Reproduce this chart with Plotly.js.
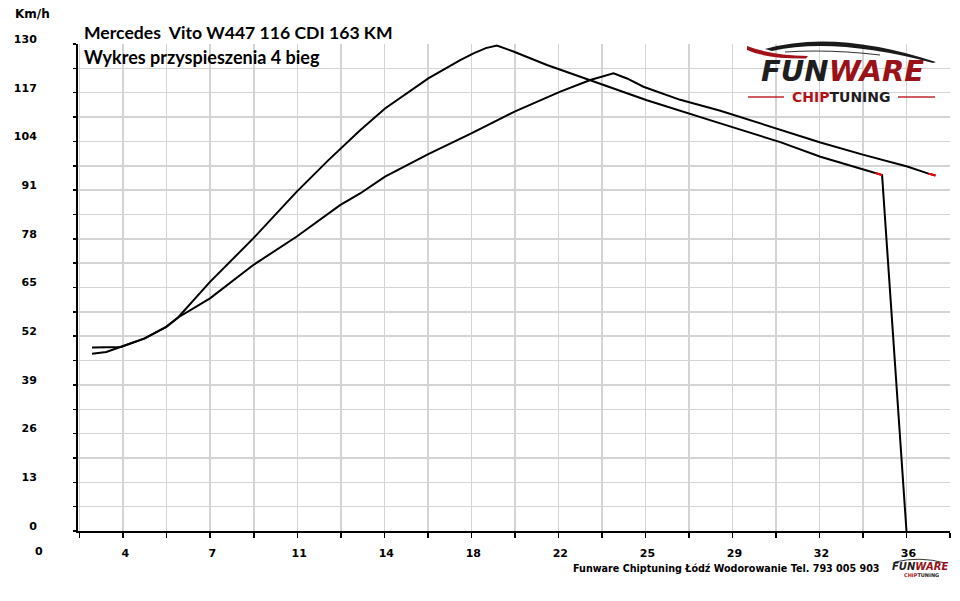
<!DOCTYPE html>
<html>
<head>
<meta charset="utf-8">
<script src="https://cdn.plot.ly/plotly-3.0.1.min.js"></script>
<style>html,body{margin:0;padding:0;background:#fff;}#chart{width:960px;height:601px;}</style>
</head>
<body>
<div id="chart"></div>
<script>
// ---- data (time in s, speed in km/h) ----
var tunedTime  = [2.31, 2.9, 3.51, 4.49, 5.38, 5.87, 7.19, 8.98, 10.78, 12.09, 13.40, 14.43, 16.22, 17.54, 18.09, 18.60, 19.06, 19.74, 21.13, 22.92, 25.26, 28.30, 30.78, 32.44, 34.71, 34.99, 36.00];
var tunedSpeed = [47.3, 47.8, 49.2, 51.4, 54.5, 57.0, 66.5, 78.1, 90.6, 99.0, 107.0, 112.8, 120.8, 125.7, 127.5, 128.9, 129.6, 128.0, 124.4, 120.4, 115.0, 108.8, 103.8, 99.9, 95.6, 95.0, 0];
var stockTime  = [2.31, 3.51, 4.49, 5.38, 5.87, 7.19, 8.98, 10.78, 12.57, 13.40, 14.43, 16.22, 18.02, 19.81, 21.68, 22.92, 23.88, 24.44, 25.12, 26.64, 28.30, 30.78, 32.44, 34.23, 36.03, 36.91, 37.20];
var stockSpeed = [49.0, 49.1, 51.4, 54.5, 57.0, 62.1, 71.0, 78.6, 87.0, 90.1, 94.6, 100.6, 106.2, 112.0, 117.3, 120.4, 122.2, 120.8, 118.6, 115.1, 112.2, 107.1, 103.7, 100.4, 97.3, 95.4, 94.9];
var xTickVals   = [3.6, 7.2, 10.8, 14.4, 18.0, 21.6, 25.2, 28.8, 32.4, 36.0];
var xTickLabels = ["4", "7", "11", "14", "18", "22", "25", "29", "32", "36"];
var yTickVals   = [0, 13, 26, 39, 52, 65, 78, 91, 104, 117, 130];
var yTickLabels = ["0", "13", "26", "39", "52", "65", "78", "91", "104", "117", "130"];
var xZeroLabel  = "0";
var unitLabel   = "Km/h";
var titleLine1  = "Mercedes  Vito W447 116 CDI 163 KM";
var titleLine2  = "Wykres przyspieszenia 4 bieg";
var footerText  = "Funware Chiptuning Łódź Wodorowanie Tel. 793 005 903";

// ---- layout helpers (pixel -> paper for decorations) ----
var L = 78, R = 950, T = 44, B = 531;
var X_MIN = 1.73, X_MAX = 37.8;
function px(x){ return (x - L) / (R - L); }
function py(y){ return (B - y) / (B - T); }
function path(pts){
  return pts.map(function(c){
    var s = c[0];
    for (var i = 1; i < c.length; i += 2) s += " " + px(c[i]).toFixed(5) + "," + py(c[i+1]).toFixed(5);
    return s;
  }).join(" ");
}
var FUN_TXT  = "<i><span style='color:#1e1e1e'>FUN</span><span style='color:#9b1118'>WARE</span></i>";
var CHIP_TXT = "<span style='color:#b5121b'>CHIP</span><span style='color:#1e1e1e'>TUNING</span>";

var n = tunedTime.length;
var traces = [
  {x: stockTime, y: stockSpeed, mode: "lines", line: {color: "#000", width: 2}, hoverinfo: "skip"},
  {x: tunedTime, y: tunedSpeed, mode: "lines", line: {color: "#000", width: 2}, hoverinfo: "skip"},
  {x: stockTime.slice(-2), y: stockSpeed.slice(-2), mode: "lines", line: {color: "#ff0000", width: 2}, hoverinfo: "skip"},
  {x: tunedTime.slice(n-3, n-1), y: tunedSpeed.slice(n-3, n-1), mode: "lines", line: {color: "#ff0000", width: 2}, hoverinfo: "skip"}
];

var tickFont = {family: "DejaVu Sans", size: 11, color: "#000", weight: 700};
var grid = "#d4d4d4";

var layout = {
  width: 960, height: 601,
  margin: {l: L, r: 960 - R, t: T, b: 601 - B, pad: 0},
  paper_bgcolor: "#fff", plot_bgcolor: "#fff",
  showlegend: false,
  xaxis: {
    range: [X_MIN, X_MAX], tickmode: "array", tickvals: xTickVals, ticktext: xTickLabels,
    ticks: "outside", ticklen: 5, tickwidth: 1.5, tickcolor: "#000",
    showline: true, linecolor: "#000", linewidth: 2, zeroline: false,
    showgrid: true, gridcolor: grid, gridwidth: 1.5,
    tickfont: tickFont, ticklabelstandoff: 6, ticklabelshift: 2,
    minor: {tick0: 0, dtick: 1.8, ticks: "outside", ticklen: 5, tickwidth: 1.5, tickcolor: "#000", showgrid: true, gridcolor: grid, gridwidth: 1.5},
    fixedrange: true
  },
  yaxis: {
    range: [0, 130], tickmode: "array", tickvals: yTickVals, ticktext: yTickLabels,
    ticks: "outside", ticklen: 3, tickwidth: 1.5, tickcolor: "#000",
    showline: true, linecolor: "#000", linewidth: 2, zeroline: false,
    showgrid: true, gridcolor: grid, gridwidth: 1.5,
    tickfont: tickFont, ticklabelstandoff: 34, ticklabelshift: -5,
    minor: {tick0: 0, dtick: 6.5, ticks: "outside", ticklen: 3, tickwidth: 1.5, tickcolor: "#000", showgrid: true, gridcolor: grid, gridwidth: 1.5},
    fixedrange: true
  },
  shapes: [
    {type: "rect", xref: "paper", yref: "paper", x0: px(745), x1: px(947), y0: py(42), y1: py(105), fillcolor: "#fff", line: {width: 0}, layer: "between"},
    {type: "path", xref: "paper", yref: "paper", layer: "above", fillcolor: "#1a1a1a", line: {width: 0},
     path: path([["M",765,49],["Q",835,29,936,62],["L",933,63],["Q",835,37,772,51],["Z"]])},
    {type: "path", xref: "paper", yref: "paper", layer: "above", fillcolor: "#a3121a", line: {width: 0},
     path: path([["M",747,46],["Q",770,55,808,56],["L",806,58.5],["Q",766,59,747,50],["Z"]])},
    {type: "path", xref: "paper", yref: "paper", layer: "above", fillcolor: "rgba(0,0,0,0)", line: {width: 1.2, color: "#333"},
     path: path([["M",785,52],["Q",830,49,880,55]])},
    {type: "line", xref: "paper", yref: "paper", layer: "above", x0: px(748), x1: px(784), y0: py(97), y1: py(97), line: {color: "#c0282d", width: 1.5}},
    {type: "line", xref: "paper", yref: "paper", layer: "above", x0: px(898), x1: px(935), y0: py(97), y1: py(97), line: {color: "#c0282d", width: 1.5}},
    {type: "path", xref: "paper", yref: "paper", layer: "above", fillcolor: "rgba(0,0,0,0)", line: {width: 1, color: "#333"},
     path: path([["M",895,562],["Q",920,556,945,563]])}
  ],
  annotations: [
    {xref: "paper", yref: "paper", x: px(32), y: py(14), text: unitLabel, showarrow: false, xanchor: "center", yanchor: "middle",
     font: {family: "DejaVu Sans", size: 12, color: "#000", weight: 700}},
    {xref: "paper", yref: "paper", x: (0 - X_MIN) / (X_MAX - X_MIN), xshift: 3, y: py(551), text: xZeroLabel, showarrow: false, xanchor: "center", yanchor: "middle",
     font: tickFont},
    {xref: "paper", yref: "paper", x: px(82), y: py(32), text: titleLine1, showarrow: false, xanchor: "left", yanchor: "middle",
     font: {family: "Lato", size: 17.6, color: "#000", weight: 700}},
    {xref: "paper", yref: "paper", x: px(82), y: py(57), text: titleLine2, showarrow: false, xanchor: "left", yanchor: "middle",
     font: {family: "Lato", size: 18, color: "#000", weight: 700}},
    {xref: "paper", yref: "paper", x: px(882), y: py(568), text: footerText, showarrow: false, xanchor: "right", yanchor: "middle",
     font: {family: "DejaVu Sans", size: 9.6, color: "#000", weight: 700}},
    {xref: "paper", yref: "paper", x: px(842), y: py(71.5), text: FUN_TXT, showarrow: false, xanchor: "center", yanchor: "middle",
     height: 24, valign: "middle", font: {family: "DejaVu Sans", size: 29, weight: 700}},
    {xref: "paper", yref: "paper", x: px(841), y: py(96.9), text: CHIP_TXT, showarrow: false, xanchor: "center", yanchor: "middle",
     height: 11, valign: "middle", font: {family: "DejaVu Sans", size: 14, weight: 700}},
    {xref: "paper", yref: "paper", x: px(920), y: py(566), text: FUN_TXT, showarrow: false, xanchor: "center", yanchor: "middle",
     height: 9, valign: "middle", font: {family: "DejaVu Sans", size: 10, weight: 700}},
    {xref: "paper", yref: "paper", x: px(921), y: py(575), text: CHIP_TXT, showarrow: false, xanchor: "center", yanchor: "middle",
     height: 6, valign: "middle", font: {family: "DejaVu Sans", size: 5, weight: 700}}
  ]
};

Plotly.newPlot("chart", traces, layout, {staticPlot: true, displayModeBar: false});
</script>
</body>
</html>
